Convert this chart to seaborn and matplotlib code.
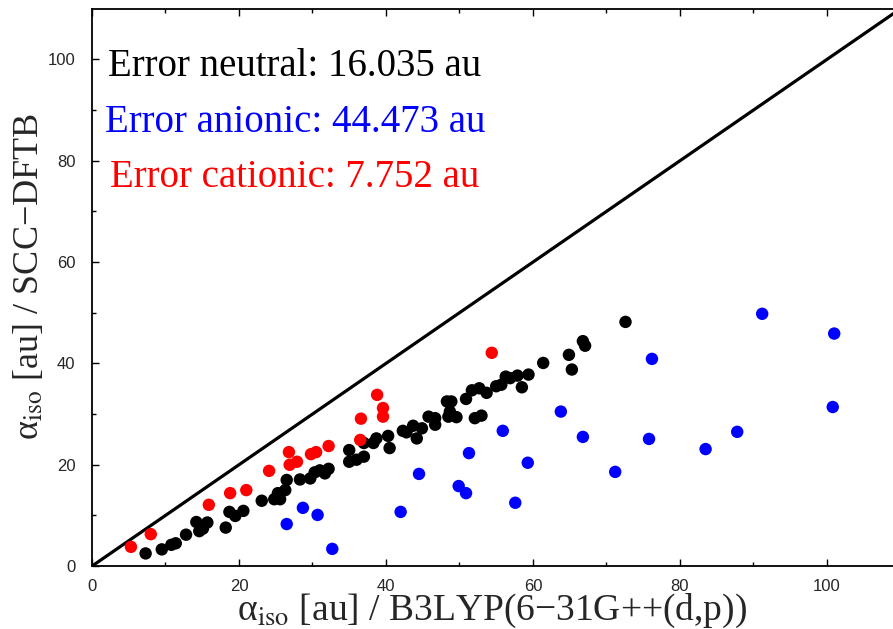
import numpy as np
import pandas as pd
import seaborn as sns
import matplotlib.pyplot as plt

# valores: B3LYP (x) vs SCC-DFTB (y)
neutral_x = [7.3, 9.5, 10.8, 11.4, 12.8, 14.2, 14.6, 15.1, 15.7, 18.2, 18.7, 19.5, 20.6,
             23.1, 24.8, 25.3, 25.6, 26.3, 26.5, 28.3, 29.7, 30.3, 31.0, 31.7, 32.2,
             35.0, 35.0, 36.0, 37.0, 37.0, 38.3, 38.7, 40.3, 40.5, 42.3, 42.8, 43.7,
             44.2, 44.9, 45.8, 46.7, 46.7, 48.3, 48.9, 48.5, 48.7, 49.6, 50.9, 51.7,
             52.1, 52.7, 53.0, 53.7, 55.0, 55.7, 56.3, 56.9, 57.9, 58.5, 59.4, 61.4,
             64.9, 65.3, 66.8, 67.1, 72.6]
neutral_y = [2.5, 3.3, 4.2, 4.5, 6.2, 8.7, 6.9, 7.4, 8.6, 7.6, 10.7, 9.9, 10.9,
             12.9, 13.2, 14.4, 13.2, 15.0, 17.0, 17.1, 17.3, 18.5, 18.9, 18.3, 19.2,
             20.6, 22.9, 21.0, 21.6, 24.3, 24.3, 25.2, 25.7, 23.3, 26.7, 26.4, 27.7,
             25.2, 27.2, 29.5, 27.9, 29.2, 32.5, 32.5, 29.5, 30.5, 29.4, 33.0, 34.7,
             29.2, 35.1, 29.7, 34.2, 35.5, 35.8, 37.4, 37.1, 37.6, 35.3, 37.8, 40.1,
             41.7, 38.8, 44.4, 43.5, 48.2]

anion_x = [26.5, 28.7, 30.7, 32.7, 42.0, 44.5, 49.9, 50.9, 51.3, 55.9, 57.6, 59.3,
           63.8, 66.8, 71.2, 75.8, 76.2, 83.5, 87.8, 91.2, 100.8, 101.0]
anion_y = [8.3, 11.5, 10.1, 3.4, 10.7, 18.2, 15.8, 14.4, 22.3, 26.7, 12.5, 20.4,
           30.5, 25.5, 18.6, 25.1, 40.9, 23.1, 26.5, 49.8, 31.4, 45.9]

cation_x = [5.3, 8.0, 15.9, 18.8, 21.0, 24.1, 26.8, 26.9, 27.9, 29.8, 30.5, 32.2,
            36.5, 36.6, 38.8, 39.6, 39.6, 54.4]
cation_y = [3.8, 6.3, 12.1, 14.4, 15.0, 18.8, 22.5, 20.0, 20.6, 22.1, 22.5, 23.7,
            24.9, 29.1, 33.8, 31.2, 29.5, 42.1]

errores = {"neutral": "16.035", "anionic": "44.473", "cationic": "7.752"}

df = pd.concat([
    pd.DataFrame({"x": neutral_x, "y": neutral_y, "tipo": "neutral"}),
    pd.DataFrame({"x": anion_x, "y": anion_y, "tipo": "anionic"}),
    pd.DataFrame({"x": cation_x, "y": cation_y, "tipo": "cationic"}),
])
colores = {"neutral": "black", "anionic": "#0000ff", "cationic": "#ff0000"}

sns.set_style("ticks")
plt.rcParams["font.family"] = ["Liberation Sans", "DejaVu Sans"]
plt.rcParams["mathtext.fontset"] = "stix"

fig = plt.figure(figsize=(8.93, 6.29), dpi=100)
ax = fig.add_axes([0.103, 0.1, 0.897, 0.886])

sns.scatterplot(data=df, x="x", y="y", hue="tipo", palette=colores, s=80,
                edgecolor="none", legend=False, ax=ax, zorder=3)

lim = np.array([0, 110])
ax.plot(lim, lim, color="black", lw=2.3, zorder=2)
ax.set_xlim(0, 109)
ax.set_ylim(0, 110)

ax.set_xticks(np.arange(0, 101, 20))
ax.set_yticks(np.arange(0, 101, 20))
ax.set_xticks(np.arange(0, 110, 10), minor=True)
ax.set_yticks(np.arange(0, 110, 10), minor=True)
ax.tick_params(which="both", direction="in", top=True, right=False,
               labelsize=12, width=1, color="black")
ax.tick_params(which="major", length=5)
ax.tick_params(which="minor", length=3)
ax.tick_params(axis="x", pad=9)
ax.tick_params(axis="y", pad=12)
for lado in ["left", "bottom", "top"]:
    ax.spines[lado].set_linewidth(1.3)
    ax.spines[lado].set_color("black")
ax.spines["right"].set_visible(False)

serif = ["Liberation Serif", "DejaVu Serif"]
ax.set_xlabel(r"α$_{\mathrm{iso}}$ [au] / B3LYP(6−31G++(d,p))", family=serif,
              fontsize=27, labelpad=-1)
ax.set_ylabel(r"α$_{\mathrm{iso}}$ [au] / SCC−DFTB", family=serif,
              fontsize=26)
ax.yaxis.set_label_coords(-0.058, 0.52)

ypos = [98.7, 87.6, 76.7]
for (tipo, err), yy in zip(errores.items(), ypos):
    ax.text(27.6, yy, f"Error {tipo}: {err} au", color=colores[tipo],
            family=serif, fontsize=28, ha="center", va="center")

fig.savefig("out.png", dpi=100)
